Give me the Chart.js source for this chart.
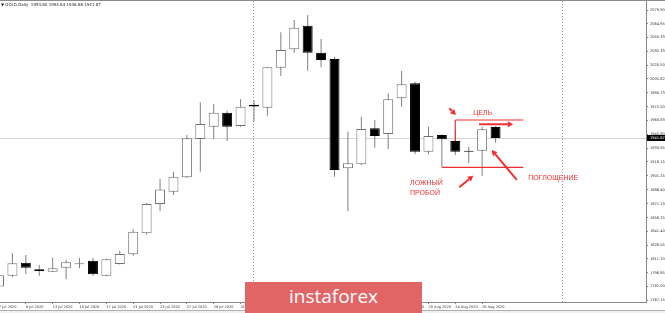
<!DOCTYPE html>
<html>
<head>
<meta charset="utf-8">
<script src="https://cdn.jsdelivr.net/npm/chart.js@4.4.1/dist/chart.umd.min.js"></script>
<style>
  html, body { margin: 0; padding: 0; background: #fff; }
  #wrap { position: relative; width: 665px; height: 313px; overflow: hidden; }
  #banner {
    position: absolute; left: 245px; top: 282px; width: 177px; height: 31px;
    background: #e26565; color: #fff; text-align: center;
    font: 19px 'Open Sans', sans-serif; line-height: 28px;
  }
</style>
</head>
<body>
<div id="wrap">
  <canvas id="myChart" width="665" height="313"></canvas>
  <div id="banner">instaforex</div>
</div>
<script>
// GOLD daily, 7 Jul - 27 Aug 2020
const dates = ['7 Jul 2020', '8 Jul 2020', '9 Jul 2020', '10 Jul 2020', '13 Jul 2020', '14 Jul 2020',
  '15 Jul 2020', '16 Jul 2020', '17 Jul 2020', '20 Jul 2020', '21 Jul 2020', '22 Jul 2020',
  '23 Jul 2020', '24 Jul 2020', '27 Jul 2020', '28 Jul 2020', '29 Jul 2020', '30 Jul 2020',
  '31 Jul 2020', '3 Aug 2020', '4 Aug 2020', '5 Aug 2020', '6 Aug 2020', '7 Aug 2020',
  '10 Aug 2020', '11 Aug 2020', '12 Aug 2020', '13 Aug 2020', '14 Aug 2020', '17 Aug 2020',
  '18 Aug 2020', '19 Aug 2020', '20 Aug 2020', '21 Aug 2020', '24 Aug 2020', '25 Aug 2020',
  '26 Aug 2020', '27 Aug 2020'];
const opens = [1782.0, 1793.7, 1807.7, 1800.6, 1798.0, 1802.3, 1806.0, 1809.7, 1793.7, 1806.3,
  1816.8, 1839.3, 1870.9, 1884.2, 1899.7, 1940.9, 1954.2, 1969.3, 1954.9, 1977.9,
  1974.6, 2017.7, 2037.6, 2063.0, 2033.9, 2027.1, 1909.4, 1913.6, 1952.4, 1946.3,
  1984.8, 2001.0, 1927.3, 1945.2, 1938.8, 1928.3, 1928.3, 1953.80];
const highs = [1797.0, 1817.8, 1816.0, 1805.2, 1813.1, 1810.6, 1813.1, 1813.1, 1812.0, 1820.6,
  1843.7, 1872.3, 1897.8, 1905.7, 1945.2, 1980.5, 1978.5, 1971.4, 1983.7, 1982.9,
  2018.5, 2055.9, 2069.1, 2074.5, 2048.7, 2029.6, 1948.8, 1964.9, 1961.4, 1990.2,
  2014.2, 2002.5, 1954.2, 1946.0, 1950.0, 1932.6, 1954.2, 1954.84];
const lows = [1779.0, 1791.9, 1795.5, 1793.7, 1797.5, 1789.7, 1801.7, 1793.7, 1793.0, 1805.8,
  1815.2, 1838.0, 1863.0, 1880.6, 1899.0, 1905.7, 1940.6, 1938.8, 1954.0, 1959.6,
  1966.0, 2008.8, 2033.9, 2014.5, 2018.2, 1900.3, 1863.0, 1913.0, 1931.6, 1930.0,
  1975.7, 1924.5, 1924.5, 1910.4, 1923.7, 1914.7, 1901.1, 1936.88];
const closes = [1794.0, 1807.0, 1802.3, 1798.7, 1801.7, 1808.1, 1806.0, 1795.3, 1811.4, 1817.0,
  1841.1, 1870.9, 1886.5, 1900.3, 1941.7, 1957.1, 1969.3, 1954.2, 1975.7, 1975.9,
  2018.2, 2036.8, 2060.8, 2033.9, 2026.0, 1907.5, 1914.7, 1951.7, 1944.2, 1983.7,
  1999.9, 1927.3, 1944.2, 1940.6, 1927.3, 1927.3, 1951.4, 1941.87];

// price scale labels on the right
const yLabels = [2079.90, 2064.95, 2050.33, 2035.33, 2020.50, 2005.62, 1990.73, 1975.50, 1960.83,
  1945.80, 1930.95, 1916.15, 1901.25, 1886.40, 1871.13, 1856.25, 1841.40, 1826.55, 1811.70,
  1796.85, 1782.00, 1767.15];
// time scale labels every second bar
const xTickIdx = [0, 2, 4, 6, 8, 10, 12, 14, 16, 18, 20, 22, 24, 26, 28, 30, 32, 34, 36];
// dotted period separators (bar index)
const separators = [19, 42];

// hand drawn markup, in bar index / price
const redLines = [
  [34, 1961.4, 39.07, 1961.4],
  [34, 1961.4, 34, 1938.8],
  [33, 1910.4, 39.07, 1910.4]
];
const redArrows = [
  [35.77, 1956.8, 38.32, 1956.8],
  [33.55, 1974.0, 34.05, 1966.8],
  [34.3, 1888.9, 35.34, 1901.4],
  [38.58, 1896.8, 36.71, 1929.1]
];
const redTexts = [
  ['ЦЕЛЬ', 35.34, 1968.6],
  ['ЛОЖНЫЙ', 30.63, 1893.2],
  ['ПРОБОЙ', 30.63, 1883.1],
  ['ПОГЛОЩЕНИЕ', 39.44, 1898.6]
];

const RED = '#f03030';
const last = closes.length - 1;

let bodies = [], wicks = [], bodyFill = [], bodyLine = [];
for (let i = 0; i < dates.length; i++) {
  bodies.push({x: i, y: [opens[i], closes[i]]});
  wicks.push({x: i, y: [lows[i], highs[i]]});
  let up = closes[i] >= opens[i];
  bodyFill.push(up ? '#ffffff' : '#000000');
  bodyLine.push(up ? '#707070' : '#000000');
}

function arrow(ctx, x1, y1, x2, y2, head) {
  let ang = Math.atan2(y2 - y1, x2 - x1);
  let bx = x2 - head * Math.cos(ang), by = y2 - head * Math.sin(ang);
  ctx.beginPath(); ctx.moveTo(x1, y1); ctx.lineTo(bx, by); ctx.stroke();
  ctx.beginPath();
  ctx.moveTo(x2, y2);
  ctx.lineTo(bx + head * 0.55 * Math.sin(ang), by - head * 0.55 * Math.cos(ang));
  ctx.lineTo(bx - head * 0.55 * Math.sin(ang), by + head * 0.55 * Math.cos(ang));
  ctx.closePath(); ctx.fill();
}

const extras = {
  id: 'extras',
  beforeDatasetsDraw(chart) {
    const {ctx, chartArea: a, scales: {x, y}} = chart;
    ctx.save();
    let py = Math.round(y.getPixelForValue(closes[last])) + 0.5;
    ctx.strokeStyle = '#d6d6d6'; ctx.lineWidth = 1;
    ctx.beginPath(); ctx.moveTo(a.left, py); ctx.lineTo(a.right, py); ctx.stroke();
    ctx.strokeStyle = '#9a9a9a'; ctx.setLineDash([1, 2]);
    separators.forEach(function(i) {
      let sx = Math.round(x.getPixelForValue(i)) - 0.5;
      ctx.beginPath(); ctx.moveTo(sx, a.top); ctx.lineTo(sx, a.bottom); ctx.stroke();
    });
    ctx.restore();
  },
  afterDatasetsDraw(chart) {
    const {ctx, scales: {x, y}} = chart;
    ctx.save();
    ctx.strokeStyle = RED; ctx.fillStyle = RED;
    ctx.lineWidth = 1.2;
    redLines.forEach(function(l) {
      ctx.beginPath();
      ctx.moveTo(x.getPixelForValue(l[0]), y.getPixelForValue(l[1]));
      ctx.lineTo(x.getPixelForValue(l[2]), y.getPixelForValue(l[3]));
      ctx.stroke();
    });
    ctx.lineWidth = 2;
    redArrows.forEach(function(l) {
      arrow(ctx, x.getPixelForValue(l[0]), y.getPixelForValue(l[1]),
        x.getPixelForValue(l[2]), y.getPixelForValue(l[3]), 5.5);
    });
    ctx.font = '7px "Liberation Sans", Arial, sans-serif';
    ctx.textBaseline = 'middle'; ctx.textAlign = 'left';
    redTexts.forEach(function(t) {
      ctx.fillText(t[0], x.getPixelForValue(t[1]), y.getPixelForValue(t[2]));
    });
    ctx.restore();
  },
  afterDraw(chart) {
    const {ctx, chartArea: a, scales: {y}} = chart;
    ctx.save();
    // window frame
    ctx.fillStyle = '#8c8c8c'; ctx.fillRect(0, 0, chart.width, 1);
    ctx.fillStyle = '#f0f0f0'; ctx.fillRect(0, 311, chart.width, 2);
    ctx.fillStyle = '#b0b0b0'; ctx.fillRect(0, 310, chart.width, 1);
    // header
    ctx.fillStyle = '#222';
    ctx.font = '4px "DejaVu Sans", sans-serif';
    ctx.textBaseline = 'middle';
    ctx.fillText('▼ GOLD,Daily  ' + opens[last].toFixed(2) + ' ' + highs[last].toFixed(2) + ' ' +
      lows[last].toFixed(2) + ' ' + closes[last].toFixed(2), 1, 4.5);
    // current price box
    let py = y.getPixelForValue(closes[last]);
    ctx.fillStyle = '#000';
    ctx.fillRect(a.right + 1, Math.round(py) - 3, chart.width - a.right - 1, 6);
    ctx.fillStyle = '#fff';
    ctx.font = '3.6px "DejaVu Sans", sans-serif';
    ctx.fillText(closes[last].toFixed(2), a.right + 4, Math.round(py));
    ctx.restore();
  }
};

var ctx = document.getElementById('myChart').getContext('2d');
var chart = new Chart(ctx, {
  type: 'bar',
  data: {
    datasets: [
      {
        data: bodies,
        backgroundColor: bodyFill,
        borderColor: bodyLine,
        borderWidth: 1,
        borderSkipped: false,
        barThickness: 10,
        minBarLength: 1,
        grouped: false,
        inflateAmount: 0,
        order: 0
      },
      {
        data: wicks,
        backgroundColor: '#808080',
        borderWidth: 0,
        barThickness: 1,
        grouped: false,
        inflateAmount: 0,
        order: 1
      }
    ]
  },
  options: {
    responsive: false,
    animation: false,
    devicePixelRatio: 1,
    layout: { padding: { top: 1, left: 0, right: 0, bottom: 0 } },
    plugins: { legend: { display: false }, tooltip: { enabled: false } },
    scales: {
      x: {
        type: 'linear',
        min: 0.075,
        max: 48.21,
        offset: false,
        afterBuildTicks: function(scale) {
          scale.ticks = xTickIdx.map(function(v) { return {value: v}; });
        },
        afterFit: function(scale) {
          scale.height = 11;
          scale.paddingLeft = 0;
          scale.paddingRight = 0;
        },
        grid: { offset: false, drawOnChartArea: false, drawTicks: true, tickLength: 2, color: '#888' },
        border: { color: '#888' },
        ticks: {
          autoSkip: false, maxRotation: 0, minRotation: 0, align: 'start', padding: 1,
          color: '#333', font: { size: 3.5, family: 'DejaVu Sans' },
          callback: function(v) { return dates[v] || ''; }
        }
      },
      y: {
        position: 'right',
        min: 1765.3,
        max: 2089.6,
        afterBuildTicks: function(scale) {
          scale.ticks = yLabels.map(function(v) { return {value: v}; });
        },
        afterFit: function(scale) {
          scale.width = 19;
          scale.paddingTop = 0;
          scale.paddingBottom = 0;
        },
        grid: { drawOnChartArea: false, drawTicks: true, tickLength: 2, color: '#888' },
        border: { color: '#888' },
        ticks: {
          padding: 2, color: '#333', font: { size: 3.6, family: 'DejaVu Sans' },
          callback: function(v) { return v.toFixed(2); }
        }
      }
    }
  },
  plugins: [extras]
});
</script>
</body>
</html>
